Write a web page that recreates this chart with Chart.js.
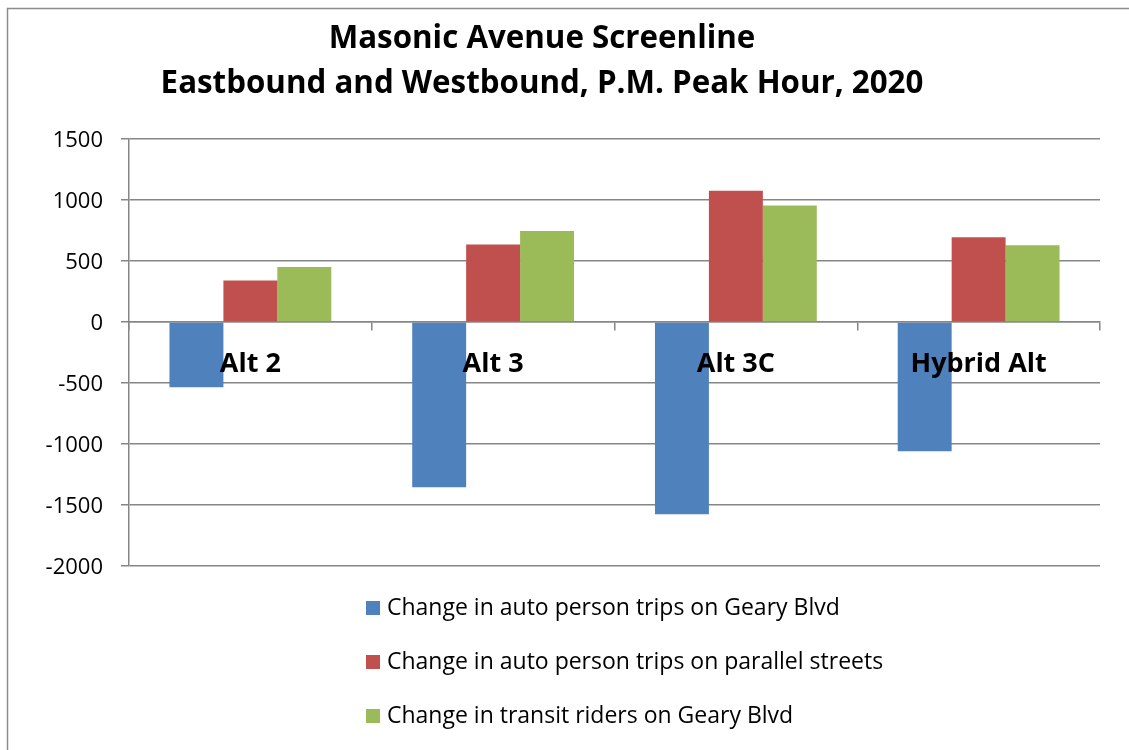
<!DOCTYPE html>
<html>
<head>
<meta charset="utf-8">
<script src="https://cdn.jsdelivr.net/npm/chart.js@4/dist/chart.umd.min.js"></script>
<style>
  html, body { margin: 0; padding: 0; background: #fff; }
  #wrap { width: 1129px; height: 750px; }
</style>
</head>
<body>
<div id="wrap"><canvas id="chart" width="1129" height="750"></canvas></div>
<script>
// Masonic Avenue screenline — change in trips by alternative
const categories = ['Alt 2', 'Alt 3', 'Alt 3C', 'Hybrid Alt'];
const autoGeary = [-535, -1355, -1575, -1060];
const autoParallel = [340, 635, 1075, 695];
const transitGeary = [450, 745, 955, 630];

const seriesLabels = [
  'Change in auto person trips on Geary Blvd',
  'Change in auto person trips on parallel streets',
  'Change in transit riders on Geary Blvd',
];
const titleLines = [
  'Masonic Avenue Screenline',
  'Eastbound and Westbound, P.M. Peak Hour, 2020',
];

const BLUE = '#4F81BD';
const RED = '#C0504D';
const GREEN = '#9BBB59';
const AXIS = '#868686';
const FONT = '"Open Sans", sans-serif';

// frame + title + vertical legend, drawn by hand
const decor = {
  id: 'decor',
  beforeDraw(chart) {
    const c = chart.ctx;
    c.save();
    c.fillStyle = '#fff';
    c.fillRect(0, 0, chart.width, chart.height);
    c.strokeStyle = '#8c8c8c';
    c.lineWidth = 1.5;
    c.strokeRect(7.5, 8.5, 1300, 900);
    c.restore();
  },
  afterDraw(chart) {
    const c = chart.ctx;
    const area = chart.chartArea;
    c.save();
    c.fillStyle = '#000';
    c.textAlign = 'center';
    c.textBaseline = 'middle';
    c.font = 'bold 31.3px ' + FONT;
    titleLines.forEach((t, i) => c.fillText(t, 542, 39 + i * 45));

    c.font = '23px ' + FONT;
    c.textAlign = 'left';
    chart.data.datasets.forEach((ds, i) => {
      const yc = area.bottom + 42 + i * 54;
      c.fillStyle = ds.backgroundColor;
      c.fillRect(366, yc - 7, 14, 14);
      c.fillStyle = '#000';
      c.fillText(ds.label, 387, yc);
    });
    c.restore();
  }
};

new Chart(document.getElementById('chart').getContext('2d'), {
  type: 'bar',
  data: {
    labels: categories,
    datasets: [
      { label: seriesLabels[0], data: autoGeary, backgroundColor: BLUE },
      { label: seriesLabels[1], data: autoParallel, backgroundColor: RED },
      { label: seriesLabels[2], data: transitGeary, backgroundColor: GREEN },
    ]
  },
  options: {
    responsive: false,
    animation: false,
    devicePixelRatio: 1,
    layout: { padding: { left: 0, top: 139, right: 29, bottom: 184 } },
    datasets: { bar: { categoryPercentage: 3 / 4.5, barPercentage: 1, borderWidth: 0 } },
    plugins: {
      legend: { display: false },
      title: { display: false },
      tooltip: { enabled: false },
    },
    scales: {
      x: {
        position: { y: 0 },
        offset: true,
        grid: { drawOnChartArea: false, drawTicks: true, tickLength: 8, color: AXIS, lineWidth: 1.5, offset: true },
        border: { color: AXIS, width: 1.5 },
        ticks: { z: 1, color: '#000', padding: 18, font: { family: FONT, size: 27, weight: 'bold' } },
      },
      y: {
        min: -2000,
        max: 1500,
        afterFit(scale) { scale.width = 129; },
        grid: { color: AXIS, lineWidth: 1.5, tickLength: 8 },
        border: { color: AXIS, width: 1.5 },
        ticks: {
          stepSize: 500, color: '#000', padding: 18, labelOffset: 2,
          font: { family: FONT, size: 22 },
          callback: v => String(v),
        },
      }
    }
  },
  plugins: [decor]
});
</script>
</body>
</html>
